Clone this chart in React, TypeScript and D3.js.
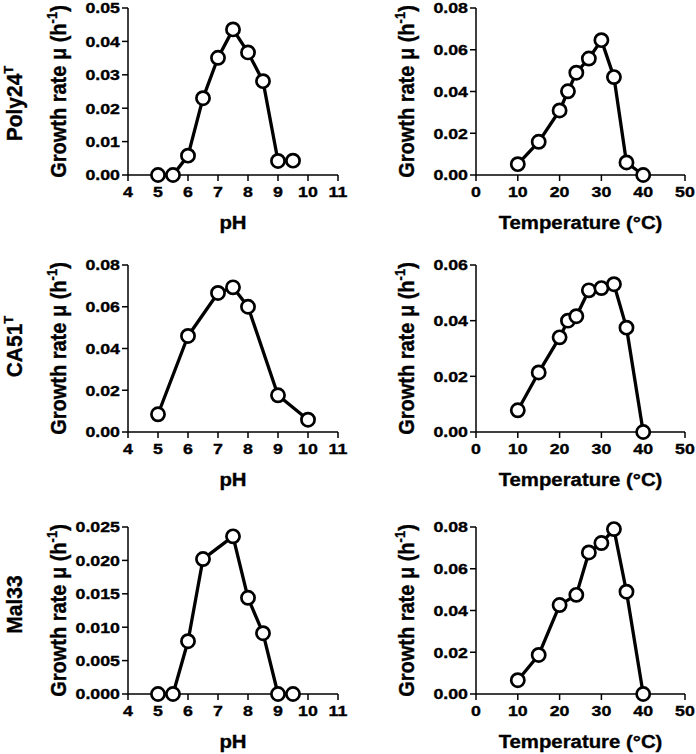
import React from "react";
import * as d3 from "d3";

// ---------- data ----------
const phPoly = [5, 5.5, 6, 6.5, 7, 7.5, 8, 8.5, 9, 9.5];
const ratePolyPH = [0, 0, 0.0058, 0.023, 0.0351, 0.0436, 0.0367, 0.0281, 0.0042, 0.0043];
const tempPoly = [10, 15, 20, 22, 24, 27, 30, 33, 36, 40];
const ratePolyT = [0.0052, 0.0159, 0.0309, 0.0401, 0.049, 0.0558, 0.0646, 0.0469, 0.006, 0];

const phCA = [5, 6, 7, 7.5, 8, 9, 10];
const rateCAPH = [0.0085, 0.046, 0.0666, 0.0693, 0.06, 0.0176, 0.0059];
const tempCA = [10, 15, 20, 22, 24, 27, 30, 33, 36, 40];
const rateCAT = [0.0078, 0.0214, 0.034, 0.04, 0.0416, 0.0509, 0.0517, 0.0531, 0.0375, 0];

const phMal = [5, 5.5, 6, 6.5, 7.5, 8, 8.5, 9, 9.5];
const rateMalPH = [0, 0, 0.0079, 0.0202, 0.0236, 0.0144, 0.0091, 0, 0];
const tempMal = [10, 15, 20, 24, 27, 30, 33, 36, 40];
const rateMalT = [0.0066, 0.0187, 0.0426, 0.0475, 0.0678, 0.0723, 0.079, 0.049, 0];

const strains = ["Poly24", "CA51", "Mal33"];
const strainSup = ["T", "T", ""];
const phTicks = [4, 5, 6, 7, 8, 9, 10, 11];
const tempTicks = [0, 10, 20, 30, 40, 50];
const yTicksPolyPH = [0, 0.01, 0.02, 0.03, 0.04, 0.05];
const yTicks008 = [0, 0.02, 0.04, 0.06, 0.08];
const yTicks006 = [0, 0.02, 0.04, 0.06];
const yTicksMalPH = [0, 0.005, 0.01, 0.015, 0.02, 0.025];

// ---------- layout ----------
const W = 696;
const H = 754;
const colX: [number, number][] = [
  [128, 338],
  [476, 685],
];
const rowY: [number, number][] = [
  [8, 175],
  [265, 432],
  [527, 694],
];
const rowLabelOffset = [12, -2, -6];
const FONT = "'Liberation Sans', Arial, Helvetica, sans-serif";
const TS = 0.35; // slight text stroke to mimic heavier rendering

type Panel = {
  row: number;
  col: number;
  xs: number[];
  ys: number[];
  xTicks: number[];
  yTicks: number[];
  yDec: number;
  xTitle: string;
};

const panels: Panel[] = [
  { row: 0, col: 0, xs: phPoly, ys: ratePolyPH, xTicks: phTicks, yTicks: yTicksPolyPH, yDec: 2, xTitle: "pH" },
  { row: 0, col: 1, xs: tempPoly, ys: ratePolyT, xTicks: tempTicks, yTicks: yTicks008, yDec: 2, xTitle: "Temperature (°C)" },
  { row: 1, col: 0, xs: phCA, ys: rateCAPH, xTicks: phTicks, yTicks: yTicks008, yDec: 2, xTitle: "pH" },
  { row: 1, col: 1, xs: tempCA, ys: rateCAT, xTicks: tempTicks, yTicks: yTicks006, yDec: 2, xTitle: "Temperature (°C)" },
  { row: 2, col: 0, xs: phMal, ys: rateMalPH, xTicks: phTicks, yTicks: yTicksMalPH, yDec: 3, xTitle: "pH" },
  { row: 2, col: 1, xs: tempMal, ys: rateMalT, xTicks: tempTicks, yTicks: yTicks008, yDec: 2, xTitle: "Temperature (°C)" },
];

function PanelView({ p }: { p: Panel }) {
  const [x0, x1] = colX[p.col];
  const [y0, y1] = rowY[p.row];
  const x = d3
    .scaleLinear()
    .domain([p.xTicks[0], p.xTicks[p.xTicks.length - 1]])
    .range([x0, x1]);
  const y = d3
    .scaleLinear()
    .domain([p.yTicks[0], p.yTicks[p.yTicks.length - 1]])
    .range([y1, y0]);
  const pts = p.xs.map((v, i) => [v, p.ys[i]] as [number, number]);
  const line = d3
    .line<[number, number]>()
    .x((d) => x(d[0]))
    .y((d) => y(d[1]));
  const fmt = d3.format("." + p.yDec + "f");
  const cx = (x0 + x1) / 2;
  const cy = (y0 + y1) / 2;
  return (
    <g>
      {/* axes */}
      <line x1={x0} x2={x0} y1={y0} y2={y1} stroke="#000" strokeWidth={1.5} />
      <line x1={x0} x2={x1} y1={y1} y2={y1} stroke="#000" strokeWidth={1.5} />
      {p.yTicks.map((t) => (
        <g key={"y" + t}>
          <line x1={x0 - 6} x2={x0} y1={y(t)} y2={y(t)} stroke="#000" strokeWidth={1.5} />
          <text
            transform={`translate(${x0 - 8},${y(t) + 5.4}) scale(1.17,1)`}
            textAnchor="end"
            fontSize={15.2}
            fontWeight="bold"
            stroke="#000"
            strokeWidth={TS}
          >
            {fmt(t)}
          </text>
        </g>
      ))}
      {p.xTicks.map((t) => (
        <g key={"x" + t}>
          <line x1={x(t)} x2={x(t)} y1={y1} y2={y1 + 6} stroke="#000" strokeWidth={1.5} />
          <text
            transform={`translate(${x(t)},${y1 + 22}) scale(1.17,1)`}
            textAnchor="middle"
            fontSize={15.2}
            fontWeight="bold"
            stroke="#000"
            strokeWidth={TS}
          >
            {t}
          </text>
        </g>
      ))}
      {/* x title */}
      <text
        transform={`translate(${cx},${y1 + 54}) scale(1.1,1)`}
        textAnchor="middle"
        fontSize={18.5}
        fontWeight="bold"
        stroke="#000"
        strokeWidth={TS}
      >
        {p.xTitle}
      </text>
      {/* y title */}
      <text
        transform={`translate(${x0 - 62},${cy}) rotate(-90) scale(1,1.12)`}
        textAnchor="middle"
        fontSize={20}
        fontWeight="bold"
        stroke="#000"
        strokeWidth={TS}
      >
        Growth rate μ (h
        <tspan fontSize={13} dy={-8}>
          -1
        </tspan>
        <tspan dy={8}>)</tspan>
      </text>
      {/* data */}
      <path d={line(pts) || ""} fill="none" stroke="#000" strokeWidth={3.3} strokeLinejoin="round" />
      {pts.map((d, i) => (
        <circle key={i} cx={x(d[0])} cy={y(d[1])} r={6.6} fill="#fff" stroke="#000" strokeWidth={2.7} />
      ))}
    </g>
  );
}

export default function App() {
  return (
    <svg
      width={W}
      height={H}
      viewBox={`0 0 ${W} ${H}`}
      style={{ position: "absolute", left: 0, top: 0, background: "#fff" }}
      fontFamily={FONT}
    >
      <rect x={0} y={0} width={W} height={H} fill="#fff" />
      {panels.map((p, i) => (
        <PanelView key={i} p={p} />
      ))}
      {strains.map((s, i) => {
        const cy = (rowY[i][0] + rowY[i][1]) / 2 + rowLabelOffset[i];
        return (
          <text
            key={s}
            transform={`translate(22,${cy}) rotate(-90) scale(1,1.04)`}
            textAnchor="middle"
            fontSize={21}
            fontWeight="bold"
            stroke="#000"
            strokeWidth={TS}
          >
            {s}
            {strainSup[i] ? (
              <tspan fontSize={13} dy={-9}>
                {strainSup[i]}
              </tspan>
            ) : null}
          </text>
        );
      })}
    </svg>
  );
}
